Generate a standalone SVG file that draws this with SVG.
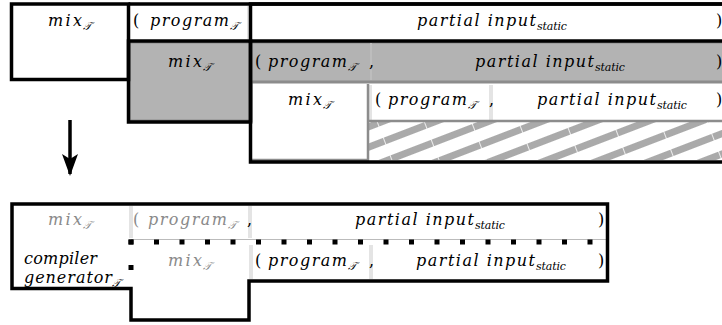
<svg xmlns="http://www.w3.org/2000/svg" width="722" height="325" viewBox="0 0 722 325">
<style>
text{font-family:'DejaVu Serif','Liberation Serif',serif}
.t{font-style:italic;font-size:16px;fill:#000}
.s{font-size:11px}
.r{font-style:normal}
.g{fill:#8a8a8a}
.blk{fill:none;stroke:#000;stroke-width:3.5}
.sep{stroke:#e4e4e4;stroke-width:4}
.gb{fill:none;stroke:#8c8c8c;stroke-width:2.5}
.dash{fill:none;stroke:#000;stroke-width:5;stroke-dasharray:5 20.5}
</style>
<defs>
<pattern id="hatch" patternUnits="userSpaceOnUse" width="44" height="19" patternTransform="rotate(-21)">
<rect x="0" y="0" width="44" height="7" fill="#aaaaaa"/>
<rect x="0" y="0" width="0.8" height="7" fill="#fff"/>
</pattern>
<marker id="ah" viewBox="0 0 22 16" refX="20" refY="8" markerWidth="22" markerHeight="16" markerUnits="userSpaceOnUse" orient="auto">
<path d="M0,0 L5,8 L0,16 L22,8 Z" fill="#000"/>
</marker>
</defs>
<rect width="722" height="325" fill="#fff"/>

<g id="top-gray-level">
<polygon points="129,42 724,42 724,82 251,82 251,121 129,121" fill="#b3b3b3" stroke="#8c8c8c" stroke-width="3"/>
<line x1="371" y1="43" x2="371" y2="80" stroke="#bdbdbd" stroke-width="2"/>
</g>

<g id="top-inner-level">
<line x1="370" y1="85" x2="370" y2="120" class="sep" stroke-width="3"/>
<line x1="491" y1="85" x2="491" y2="120" class="sep" stroke-width="3"/>
<rect x="369" y="122" width="355" height="38" fill="url(#hatch)"/>
<path d="M368,84 V160 H251" class="gb"/>
<path d="M368,121 H724" class="gb"/>
</g>

<g id="top-black">
<line x1="248" y1="6" x2="248" y2="39" stroke="#e4e4e4" stroke-width="2"/>
<rect x="11.5" y="4" width="117" height="75.5" class="blk"/>
<path d="M128.5,4 H724" class="blk"/>
<rect x="250.5" y="4" width="480" height="37" class="blk"/>
<rect x="128.5" y="41" width="122" height="81" class="blk"/>
<path d="M250.5,41 V162 H725" class="blk"/>
</g>

<g id="node-mix-outer">
<text class="t" x="48" y="26" textLength="34" lengthAdjust="spacing">mix</text><text class="t s" x="83" y="30">𝒯</text>
</g>
<g id="node-program-1">
<text class="t r" x="133" y="26">(</text>
<text class="t" x="150" y="26" textLength="79" lengthAdjust="spacing">program</text><text class="t s" x="230" y="30">𝒯</text>
</g>
<g id="node-input-1">
<text class="t" x="417" y="26" textLength="119" lengthAdjust="spacing">partial input</text><text class="t s" x="537" y="30" textLength="30" lengthAdjust="spacing">static</text>
<text class="t r" x="716" y="26">)</text>
</g>

<g id="node-mix-gray">
<text class="t" x="168" y="67" textLength="34" lengthAdjust="spacing">mix</text><text class="t s" x="203" y="71">𝒯</text>
</g>
<g id="node-program-2">
<text class="t r" x="255" y="67">(</text>
<text class="t" x="268" y="67" textLength="79" lengthAdjust="spacing">program</text><text class="t s" x="348" y="71">𝒯</text>
<text class="t r" x="369" y="67">,</text>
</g>
<g id="node-input-2">
<text class="t" x="475" y="67" textLength="119" lengthAdjust="spacing">partial input</text><text class="t s" x="595" y="71" textLength="30" lengthAdjust="spacing">static</text>
<text class="t r" x="716" y="67">)</text>
</g>

<g id="node-mix-3">
<text class="t" x="288" y="105" textLength="34" lengthAdjust="spacing">mix</text><text class="t s" x="323" y="109">𝒯</text>
</g>
<g id="node-program-3">
<text class="t r" x="375" y="105">(</text>
<text class="t" x="388" y="105" textLength="79" lengthAdjust="spacing">program</text><text class="t s" x="468" y="109">𝒯</text>
<text class="t r" x="489" y="105">,</text>
</g>
<g id="node-input-3">
<text class="t" x="537" y="105" textLength="119" lengthAdjust="spacing">partial input</text><text class="t s" x="657" y="109" textLength="30" lengthAdjust="spacing">static</text>
<text class="t r" x="716" y="105">)</text>
</g>

<g id="connectors">
<line x1="70" y1="120" x2="70" y2="174" stroke="#000" stroke-width="3.5" marker-end="url(#ah)"/>
</g>

<g id="bottom-frame">
<line x1="131" y1="206" x2="131" y2="238" class="sep"/>
<line x1="250" y1="206" x2="250" y2="238" class="sep"/>
<line x1="251" y1="245" x2="251" y2="279" class="sep"/>
<line x1="371" y1="245" x2="371" y2="279" class="sep"/>
<line x1="131" y1="239.5" x2="607" y2="239.5" stroke="#bbb" stroke-width="1"/>
<path d="M128.5,242 H608" class="dash"/>
<path d="M131,239.5 V288" class="dash"/>
<path d="M12,204 H607.5 V281 H249 V320 H131 V288.5 H12 Z" class="blk"/>
</g>

<g id="node-cogen">
<text class="t g" x="48" y="225" textLength="34" lengthAdjust="spacing">mix</text><text class="t s g" x="83" y="229">𝒯</text>
<text class="t" x="24" y="264" textLength="73" lengthAdjust="spacing">compiler</text>
<text class="t" x="24" y="283" textLength="88" lengthAdjust="spacing">generator</text><text class="t s" x="112" y="287">𝒯</text>
</g>
<g id="node-program-b1">
<text class="t r g" x="133" y="225">(</text>
<text class="t g" x="148" y="225" textLength="79" lengthAdjust="spacing">program</text><text class="t s g" x="228" y="229">𝒯</text>
<text class="t r" x="247" y="225">,</text>
</g>
<g id="node-input-b1">
<text class="t" x="355" y="225" textLength="119" lengthAdjust="spacing">partial input</text><text class="t s" x="475" y="229" textLength="30" lengthAdjust="spacing">static</text>
<text class="t r" x="598" y="225">)</text>
</g>
<g id="node-mix-b2">
<text class="t g" x="168" y="266" textLength="34" lengthAdjust="spacing">mix</text><text class="t s g" x="203" y="270">𝒯</text>
</g>
<g id="node-program-b2">
<text class="t r" x="255" y="266">(</text>
<text class="t" x="268" y="266" textLength="79" lengthAdjust="spacing">program</text><text class="t s" x="348" y="270">𝒯</text>
<text class="t r" x="369" y="266">,</text>
</g>
<g id="node-input-b2">
<text class="t" x="416" y="266" textLength="119" lengthAdjust="spacing">partial input</text><text class="t s" x="536" y="270" textLength="30" lengthAdjust="spacing">static</text>
<text class="t r" x="598" y="266">)</text>
</g>
</svg>
